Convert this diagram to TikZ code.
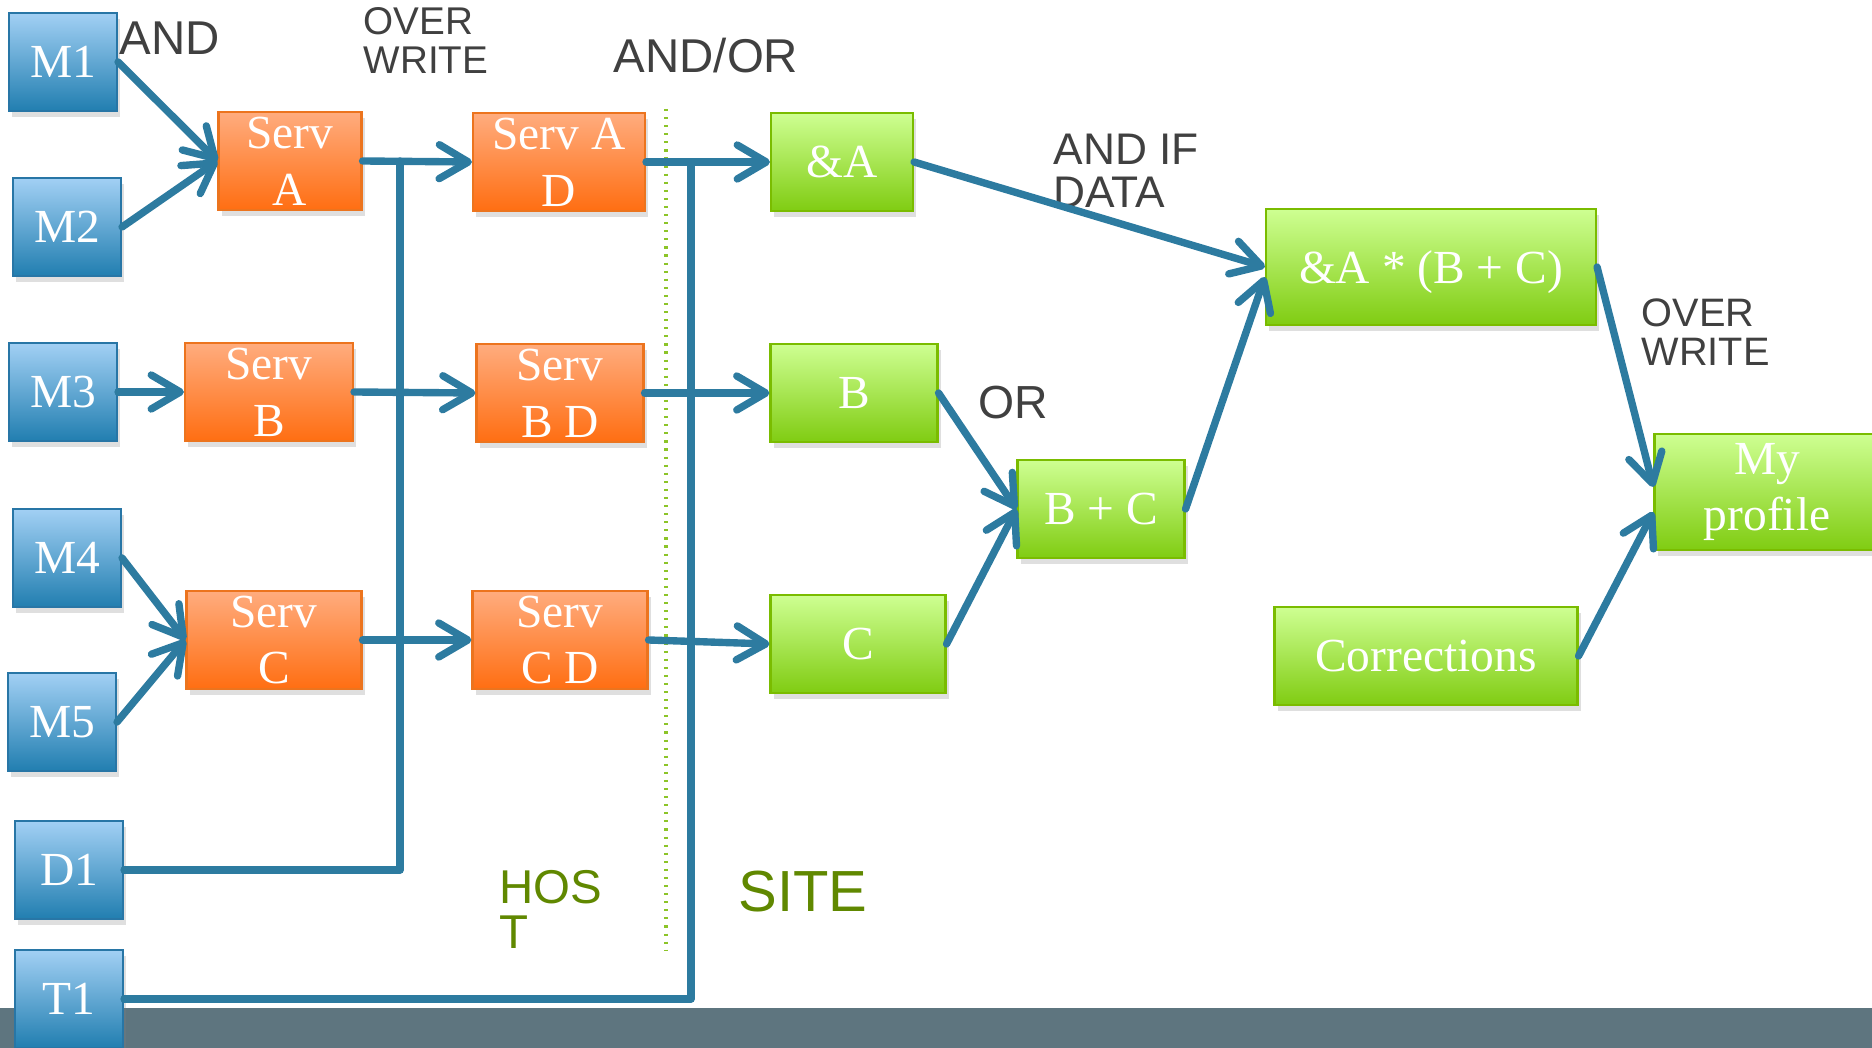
\documentclass[tikz,border=0pt]{standalone}
\usepackage{fontspec}
\setmainfont{Liberation Serif}
\newfontfamily\lblfont{Liberation Sans}
\usetikzlibrary{arrows.meta,shadows}
\definecolor{flowblue}{RGB}{45,123,160}
\definecolor{mtop}{RGB}{162,208,244}
\definecolor{mbot}{RGB}{33,126,176}
\definecolor{medge}{RGB}{40,118,166}
\definecolor{stop}{RGB}{255,172,126}
\definecolor{sbot}{RGB}{255,110,18}
\definecolor{sedge}{RGB}{236,116,30}
\definecolor{gtop}{RGB}{206,255,146}
\definecolor{gbot}{RGB}{128,204,18}
\definecolor{gedge}{RGB}{122,188,0}
\definecolor{lblgray}{RGB}{64,64,64}
\definecolor{hostgreen}{RGB}{96,136,0}
\definecolor{dotgreen}{RGB}{140,196,40}
\definecolor{barcol}{RGB}{94,117,127}
\tikzset{>={Straight Barb[length=2.9mm,width=3.4mm,round]}}
\tikzset{
  box/.style={draw,line width=0.6pt,inner sep=0pt,minimum height=9.8mm,text=white,align=center,
    font=\fontsize{13.5}{16.2}\selectfont,
    drop shadow={shadow xshift=0.3mm,shadow yshift=-0.6mm,opacity=0.25}},
  mbox/.style={box,draw=medge,top color=mtop,bottom color=mbot,minimum width=10.8mm},
  servbox/.style={box,draw=sedge,top color=stop,bottom color=sbot},
  sitebox/.style={box,draw=gedge,top color=gtop,bottom color=gbot},
  flow/.style={draw=flowblue,line width=2.1pt,line join=round,line cap=round},
  lbl/.style={anchor=north west,inner sep=0pt,align=left,text=lblgray},
}

\begin{document}
\begin{tikzpicture}[x=0.1mm,y=-0.1mm]
\useasboundingbox (0,0) rectangle (1872,1048);
  \fill[barcol] (0,1008) rectangle (1872,1048);
  \draw[dotgreen,line width=0.9pt,dash pattern=on 0.6pt off 1.7pt] (666,109)--(666,950);

\node[mbox] (m1) at (63,62) {M1};
\node[mbox] (m2) at (67,227) {M2};
\node[mbox] (m3) at (63,392) {M3};
\node[mbox] (m4) at (67,558) {M4};
\node[mbox] (m5) at (62,722) {M5};
\node[mbox] (d1) at (69,870) {D1};
\node[mbox] (t1) at (69,999) {T1};

\node[servbox,minimum width=14.3mm] (sa) at (290,161) {Serv\\A};
\node[servbox,minimum width=16.8mm] (sb) at (269,392) {Serv\\B};
\node[servbox,minimum width=17.5mm] (sc) at (274,640) {Serv\\C};
\node[servbox,minimum width=17.2mm] (sad) at (559,162) {Serv A\\D};
\node[servbox,minimum width=16.7mm] (sbd) at (560,393) {Serv\\B D};
\node[servbox,minimum width=17.5mm] (scd) at (560,640) {Serv\\C D};

\node[sitebox,minimum width=14.2mm] (ea) at (842,162) {\&A};
\node[sitebox,minimum width=16.7mm] (b) at (854,393) {B};
\node[sitebox,minimum width=17.5mm] (c) at (858,644) {C};
\node[sitebox,minimum width=16.7mm] (bc) at (1101,509) {B + C};
\node[sitebox,minimum width=33mm,minimum height=11.6mm,text depth=0pt] (all) at (1431,267) {\&A * (B + C)};
\node[sitebox,minimum width=22.5mm,minimum height=11.6mm] (prof) at (1767,492) {My\\profile};
\node[sitebox,minimum width=30.3mm] (corr) at (1426,656) {Corrections};

\node[lbl,font=\lblfont\fontsize{13.5}{14}\selectfont] (and1) at (119,21) {AND};
\node[lbl,font=\lblfont\fontsize{11}{11.1}\selectfont] (ow1) at (363,7) {OVER\\WRITE};
\node[lbl,font=\lblfont\fontsize{13.5}{14}\selectfont] (andor) at (613,37) {AND/OR};
\node[lbl,font=\lblfont\fontsize{12.6}{12.2}\selectfont] (andif) at (1053,133) {AND IF\\DATA};
\node[lbl,font=\lblfont\fontsize{13.2}{14}\selectfont] (or1) at (978,385) {OR};
\node[lbl,font=\lblfont\fontsize{11.3}{11.1}\selectfont] (ow2) at (1641,298) {OVER\\WRITE};
\node[lbl,text=hostgreen,font=\lblfont\fontsize{13.5}{12.8}\selectfont] (host) at (499,870) {HOS\\T};
\node[lbl,text=hostgreen,font=\lblfont\fontsize{16.5}{18}\selectfont] (site) at (738,870) {SITE};

\coordinate (ja) at (400,161);
\coordinate (jb) at (691,162);
\draw[flow] (d1.east) -| (ja);
\draw[flow] (t1.east) -| (jb);

  \draw[flow,->] (m1.east)--(sa.west);
  \draw[flow,->] (m2.east)--(sa.west);
  \draw[flow,->] (m3.east)--(sb.west);
  \draw[flow,->] (m4.east)--(sc.west);
  \draw[flow,->] (m5.east)--(sc.west);

  \draw[flow,->] (sa.east)--(sad.west);
  \draw[flow,->] (sb.east)--(sbd.west);
  \draw[flow,->] (sc.east)--(scd.west);
  \draw[flow,->] (sad.east)--(ea.west);
  \draw[flow,->] (sbd.east)--(b.west);
  \draw[flow,->] (scd.east)--(c.west);

  \draw[flow,->] (ea.east)--(all.west);
  \draw[flow,->] (b.east)--(bc.west);
  \draw[flow,->] (c.east)--(bc.west);
  \draw[flow,->] (bc.east)--([yshift=-1mm]all.west);
  \draw[flow,->] (all.east)--([yshift=0.5mm]prof.west);
  \draw[flow,->] (corr.east)--([yshift=-2mm]prof.west);
\end{tikzpicture}
\end{document}
